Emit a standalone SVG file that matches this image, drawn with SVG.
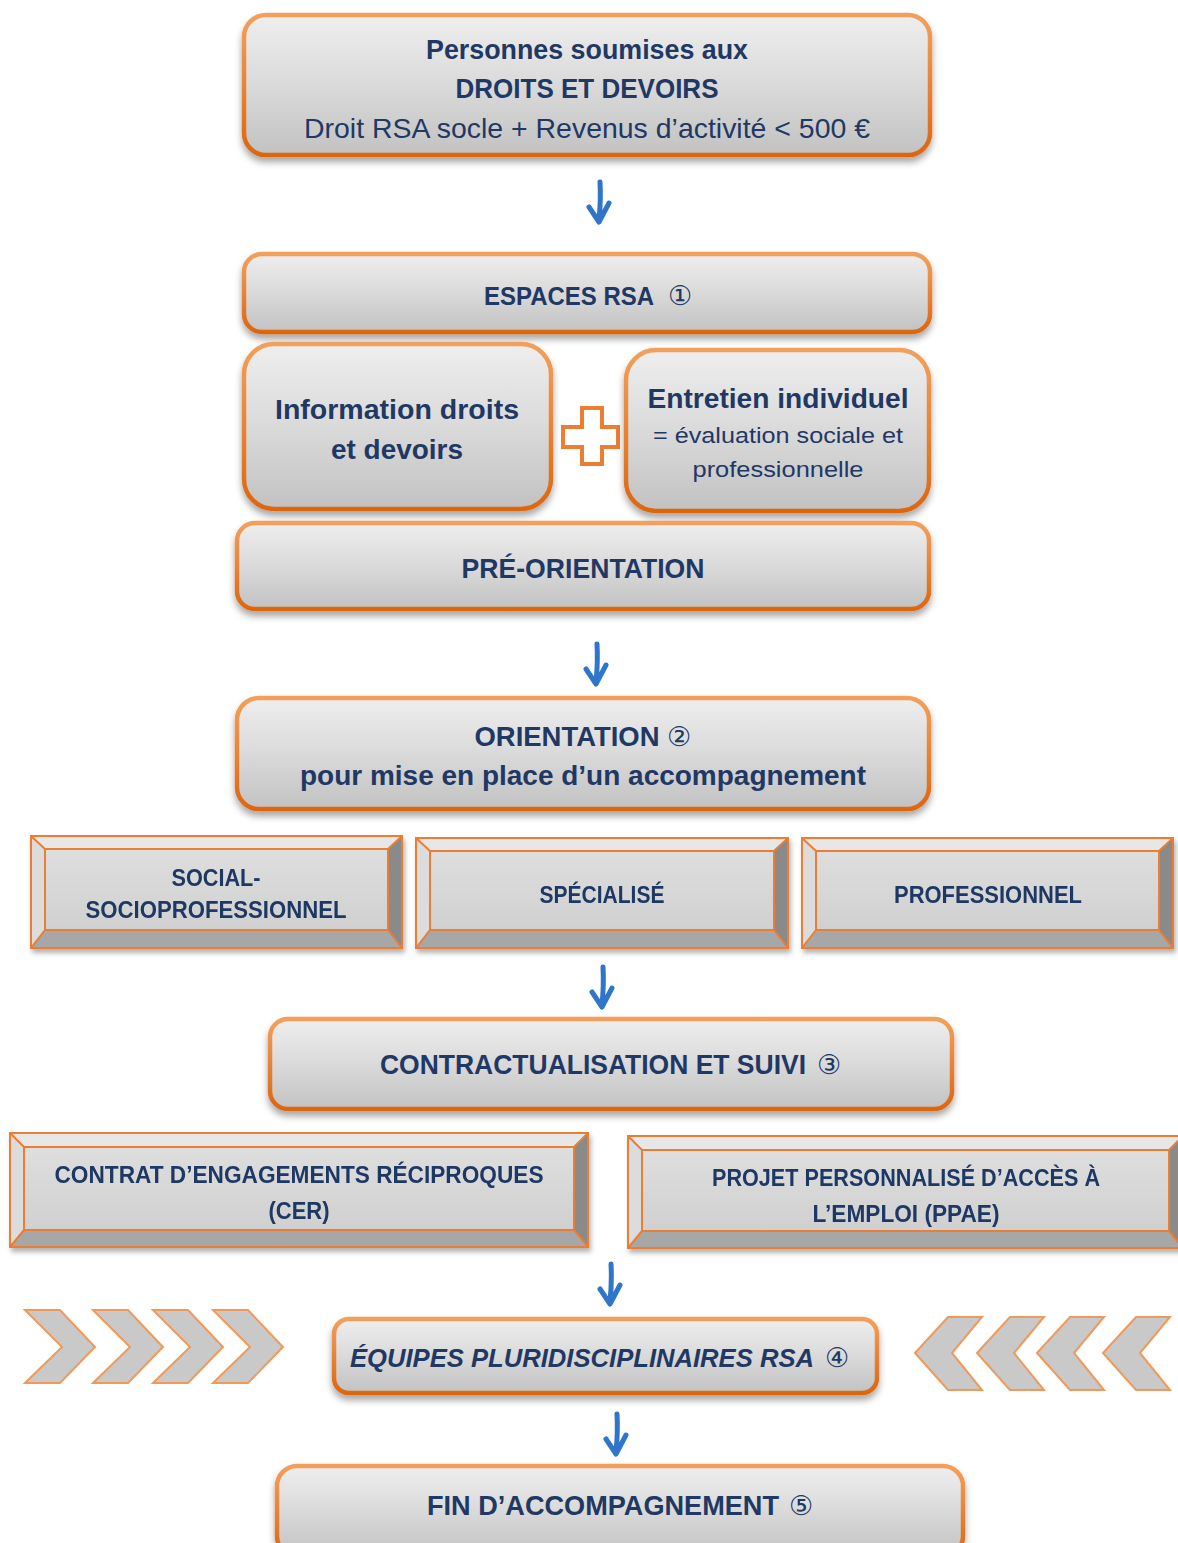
<svg xmlns="http://www.w3.org/2000/svg" width="1178" height="1543" viewBox="0 0 1178 1543">
<defs>
<linearGradient id="gf" x1="0" y1="0" x2="0" y2="1">
<stop offset="0" stop-color="#eeeeee"/><stop offset="0.45" stop-color="#dcdcdc"/><stop offset="1" stop-color="#c2c2c2"/>
</linearGradient>
<linearGradient id="go" x1="0" y1="0" x2="0" y2="1">
<stop offset="0" stop-color="#f3a05c"/><stop offset="1" stop-color="#dd6610"/>
</linearGradient>
<linearGradient id="gi" x1="0" y1="0" x2="0" y2="1">
<stop offset="0" stop-color="#dedede"/><stop offset="1" stop-color="#d0d0d0"/>
</linearGradient>
<filter id="sh" x="-5%" y="-10%" width="110%" height="130%">
<feDropShadow dx="0" dy="5" stdDeviation="3.5" flood-color="#000" flood-opacity="0.35"/>
</filter>
<filter id="sh2" x="-5%" y="-10%" width="110%" height="130%">
<feDropShadow dx="2" dy="4" stdDeviation="2.5" flood-color="#000" flood-opacity="0.3"/>
</filter>
</defs>
<style>
.rb{fill:url(#gf);stroke:url(#go);stroke-width:4.5;filter:url(#sh)}
.bt{fill:#e7e7e7}.bl{fill:#dcdcdc}.br{fill:#8a8a8a}.bb{fill:#a7a7a7}.bf{fill:url(#gi)}
.bo{fill:none;stroke:#ed7d31;stroke-width:2}
.t{font-family:"Liberation Sans","DejaVu Sans",sans-serif;fill:#1f3864;text-anchor:middle}
.b{font-weight:bold}
.n{font-family:"DejaVu Sans",sans-serif;font-weight:normal;fill:#1f3864;text-anchor:middle;font-size:27px}
.ar{fill:none;stroke:#2f75c9;stroke-width:5;stroke-linecap:round;stroke-linejoin:round}
.ch{fill:#c9c9c9;stroke:#ef9a5a;stroke-width:2;stroke-linejoin:miter}
</style>
<rect width="1178" height="1543" fill="#ffffff"/>

<g id="n-personnes">
<rect class="rb" x="244" y="15" width="686" height="140" rx="22"/>
<text class="t b" x="587" y="59" font-size="28" textLength="322" lengthAdjust="spacingAndGlyphs">Personnes soumises aux</text>
<text class="t b" x="587" y="98" font-size="28" textLength="263" lengthAdjust="spacingAndGlyphs">DROITS ET DEVOIRS</text>
<text class="t" x="587" y="138" font-size="28" textLength="566" lengthAdjust="spacingAndGlyphs">Droit RSA socle + Revenus d’activité &lt; 500 €</text>
</g>

<g id="n-espaces">
<rect class="rb" x="244" y="254" width="686" height="78" rx="18"/>
<text class="t b" x="569" y="305" font-size="26" textLength="170" lengthAdjust="spacingAndGlyphs">ESPACES RSA</text>
<text class="n" x="680" y="305">①</text>
</g>

<g id="n-information">
<rect class="rb" x="244" y="344" width="307" height="165" rx="30"/>
<text class="t b" x="397" y="419" font-size="28" textLength="244" lengthAdjust="spacingAndGlyphs">Information droits</text>
<text class="t b" x="397" y="459" font-size="28" textLength="132" lengthAdjust="spacingAndGlyphs">et devoirs</text>
</g>

<g id="n-plus">
<polygon points="582,408 602,408 602,427 618,427 618,447 602,447 602,464 582,464 582,447 563,447 563,427 582,427" fill="#ffffff" stroke="#ed7d31" stroke-width="4"/>
</g>

<g id="n-entretien">
<rect class="rb" x="626" y="350" width="303" height="161" rx="30"/>
<text class="t b" x="778" y="408" font-size="28" textLength="261" lengthAdjust="spacingAndGlyphs">Entretien individuel</text>
<text class="t" x="778" y="443" font-size="22" textLength="250" lengthAdjust="spacingAndGlyphs">= évaluation sociale et</text>
<text class="t" x="778" y="477" font-size="22" textLength="171" lengthAdjust="spacingAndGlyphs">professionnelle</text>
</g>

<g id="n-preorientation">
<rect class="rb" x="237" y="523" width="692" height="86" rx="18"/>
<text class="t b" x="583" y="578" font-size="28" textLength="243" lengthAdjust="spacingAndGlyphs">PRÉ-ORIENTATION</text>
</g>

<g id="n-orientation">
<rect class="rb" x="237" y="698" width="692" height="111" rx="22"/>
<text class="t b" x="567" y="746" font-size="28" textLength="185" lengthAdjust="spacingAndGlyphs">ORIENTATION</text>
<text class="n" x="679" y="746">②</text>
<text class="t b" x="583" y="785" font-size="28" textLength="566" lengthAdjust="spacingAndGlyphs">pour mise en place d’un accompagnement</text>
</g>

<g id="n-social" filter="url(#sh2)">
<polygon class="bt" points="31,836 402,836 388,849 45,849"/>
<polygon class="bl" points="31,836 45,849 45,930 31,948"/>
<polygon class="br" points="402,836 402,948 388,930 388,849"/>
<polygon class="bb" points="31,948 45,930 388,930 402,948"/>
<rect class="bf" x="45" y="849" width="343" height="81"/>
<rect class="bo" x="31" y="836" width="371" height="112"/>
<rect class="bo" x="45" y="849" width="343" height="81"/>
<path class="bo" d="M31,836 L45,849 M402,836 L388,849 M31,948 L45,930 M402,948 L388,930"/>
<text class="t b" x="216" y="886" font-size="24" textLength="89" lengthAdjust="spacingAndGlyphs">SOCIAL-</text>
<text class="t b" x="216" y="918" font-size="24" textLength="261" lengthAdjust="spacingAndGlyphs">SOCIOPROFESSIONNEL</text>
</g>

<g id="n-specialise" filter="url(#sh2)">
<polygon class="bt" points="416,838 788,838 774,851 430,851"/>
<polygon class="bl" points="416,838 430,851 430,930 416,948"/>
<polygon class="br" points="788,838 788,948 774,930 774,851"/>
<polygon class="bb" points="416,948 430,930 774,930 788,948"/>
<rect class="bf" x="430" y="851" width="344" height="79"/>
<rect class="bo" x="416" y="838" width="372" height="110"/>
<rect class="bo" x="430" y="851" width="344" height="79"/>
<path class="bo" d="M416,838 L430,851 M788,838 L774,851 M416,948 L430,930 M788,948 L774,930"/>
<text class="t b" x="602" y="903" font-size="24" textLength="125" lengthAdjust="spacingAndGlyphs">SPÉCIALISÉ</text>
</g>

<g id="n-professionnel" filter="url(#sh2)">
<polygon class="bt" points="802,838 1173,838 1159,851 816,851"/>
<polygon class="bl" points="802,838 816,851 816,930 802,948"/>
<polygon class="br" points="1173,838 1173,948 1159,930 1159,851"/>
<polygon class="bb" points="802,948 816,930 1159,930 1173,948"/>
<rect class="bf" x="816" y="851" width="343" height="79"/>
<rect class="bo" x="802" y="838" width="371" height="110"/>
<rect class="bo" x="816" y="851" width="343" height="79"/>
<path class="bo" d="M802,838 L816,851 M1173,838 L1159,851 M802,948 L816,930 M1173,948 L1159,930"/>
<text class="t b" x="988" y="903" font-size="24" textLength="188" lengthAdjust="spacingAndGlyphs">PROFESSIONNEL</text>
</g>

<g id="n-contractualisation">
<rect class="rb" x="270" y="1019" width="682" height="90" rx="18"/>
<text class="t b" x="593" y="1074" font-size="27" textLength="426" lengthAdjust="spacingAndGlyphs">CONTRACTUALISATION ET SUIVI</text>
<text class="n" x="829" y="1074">③</text>
</g>

<g id="n-cer" filter="url(#sh2)">
<polygon class="bt" points="10,1133 588,1133 574,1147 24,1147"/>
<polygon class="bl" points="10,1133 24,1147 24,1230 10,1247"/>
<polygon class="br" points="588,1133 588,1247 574,1230 574,1147"/>
<polygon class="bb" points="10,1247 24,1230 574,1230 588,1247"/>
<rect class="bf" x="24" y="1147" width="550" height="83"/>
<rect class="bo" x="10" y="1133" width="578" height="114"/>
<rect class="bo" x="24" y="1147" width="550" height="83"/>
<path class="bo" d="M10,1133 L24,1147 M588,1133 L574,1147 M10,1247 L24,1230 M588,1247 L574,1230"/>
<text class="t b" x="299" y="1183" font-size="24" textLength="489" lengthAdjust="spacingAndGlyphs">CONTRAT D’ENGAGEMENTS RÉCIPROQUES</text>
<text class="t b" x="299" y="1219" font-size="24" textLength="61" lengthAdjust="spacingAndGlyphs">(CER)</text>
</g>

<g id="n-ppae" filter="url(#sh2)">
<polygon class="bt" points="628,1136 1183,1136 1169,1150 642,1150"/>
<polygon class="bl" points="628,1136 642,1150 642,1231 628,1248"/>
<polygon class="br" points="1183,1136 1183,1248 1169,1231 1169,1150"/>
<polygon class="bb" points="628,1248 642,1231 1169,1231 1183,1248"/>
<rect class="bf" x="642" y="1150" width="527" height="81"/>
<rect class="bo" x="628" y="1136" width="555" height="112"/>
<rect class="bo" x="642" y="1150" width="527" height="81"/>
<path class="bo" d="M628,1136 L642,1150 M1183,1136 L1169,1150 M628,1248 L642,1231 M1183,1248 L1169,1231"/>
<text class="t b" x="906" y="1186" font-size="24" textLength="388" lengthAdjust="spacingAndGlyphs">PROJET PERSONNALISÉ D’ACCÈS À</text>
<text class="t b" x="906" y="1222" font-size="24" textLength="187" lengthAdjust="spacingAndGlyphs">L’EMPLOI (PPAE)</text>
</g>

<g id="n-chevrons-left">
<polygon class="ch" points="25,1310 60,1310 95,1347 60,1383 25,1383 62,1347"/>
<polygon class="ch" points="93,1310 128,1310 163,1347 128,1383 93,1383 130,1347"/>
<polygon class="ch" points="153,1310 188,1310 223,1347 188,1383 153,1383 190,1347"/>
<polygon class="ch" points="213,1310 248,1310 283,1347 248,1383 213,1383 250,1347"/>
</g>

<g id="n-chevrons-right">
<polygon class="ch" points="915,1353 948,1317 982,1317 952,1353 982,1390 948,1390"/>
<polygon class="ch" points="977,1353 1010,1317 1044,1317 1014,1353 1044,1390 1010,1390"/>
<polygon class="ch" points="1037,1353 1070,1317 1104,1317 1074,1353 1104,1390 1070,1390"/>
<polygon class="ch" points="1103,1353 1136,1317 1170,1317 1140,1353 1170,1390 1136,1390"/>
</g>

<g id="n-equipes">
<rect class="rb" x="334" y="1319" width="543" height="74" rx="15"/>
<text class="t b" x="582" y="1367" font-size="26" font-style="italic" textLength="464" lengthAdjust="spacingAndGlyphs">ÉQUIPES PLURIDISCIPLINAIRES RSA</text>
<text class="n" x="837" y="1367">④</text>
</g>

<g id="n-fin">
<rect class="rb" x="277" y="1466" width="686" height="90" rx="20"/>
<text class="t b" x="603" y="1515" font-size="28" textLength="352" lengthAdjust="spacingAndGlyphs">FIN D’ACCOMPAGNEMENT</text>
<text class="n" x="801" y="1515">⑤</text>
</g>

<g id="connectors">
<path class="ar" d="M600,182 Q601,200 599,220 M589,207 L599,222 L609,203"/>
<path class="ar" d="M597,644 Q598,662 596,682 M586,669 L596,684 L606,665"/>
<path class="ar" d="M603,967 Q604,985 602,1005 M592,992 L602,1007 L612,988"/>
<path class="ar" d="M611,1264 Q612,1282 610,1302 M600,1289 L610,1304 L620,1285"/>
<path class="ar" d="M617,1414 Q618,1432 616,1452 M606,1439 L616,1454 L626,1435"/>
</g>
</svg>
